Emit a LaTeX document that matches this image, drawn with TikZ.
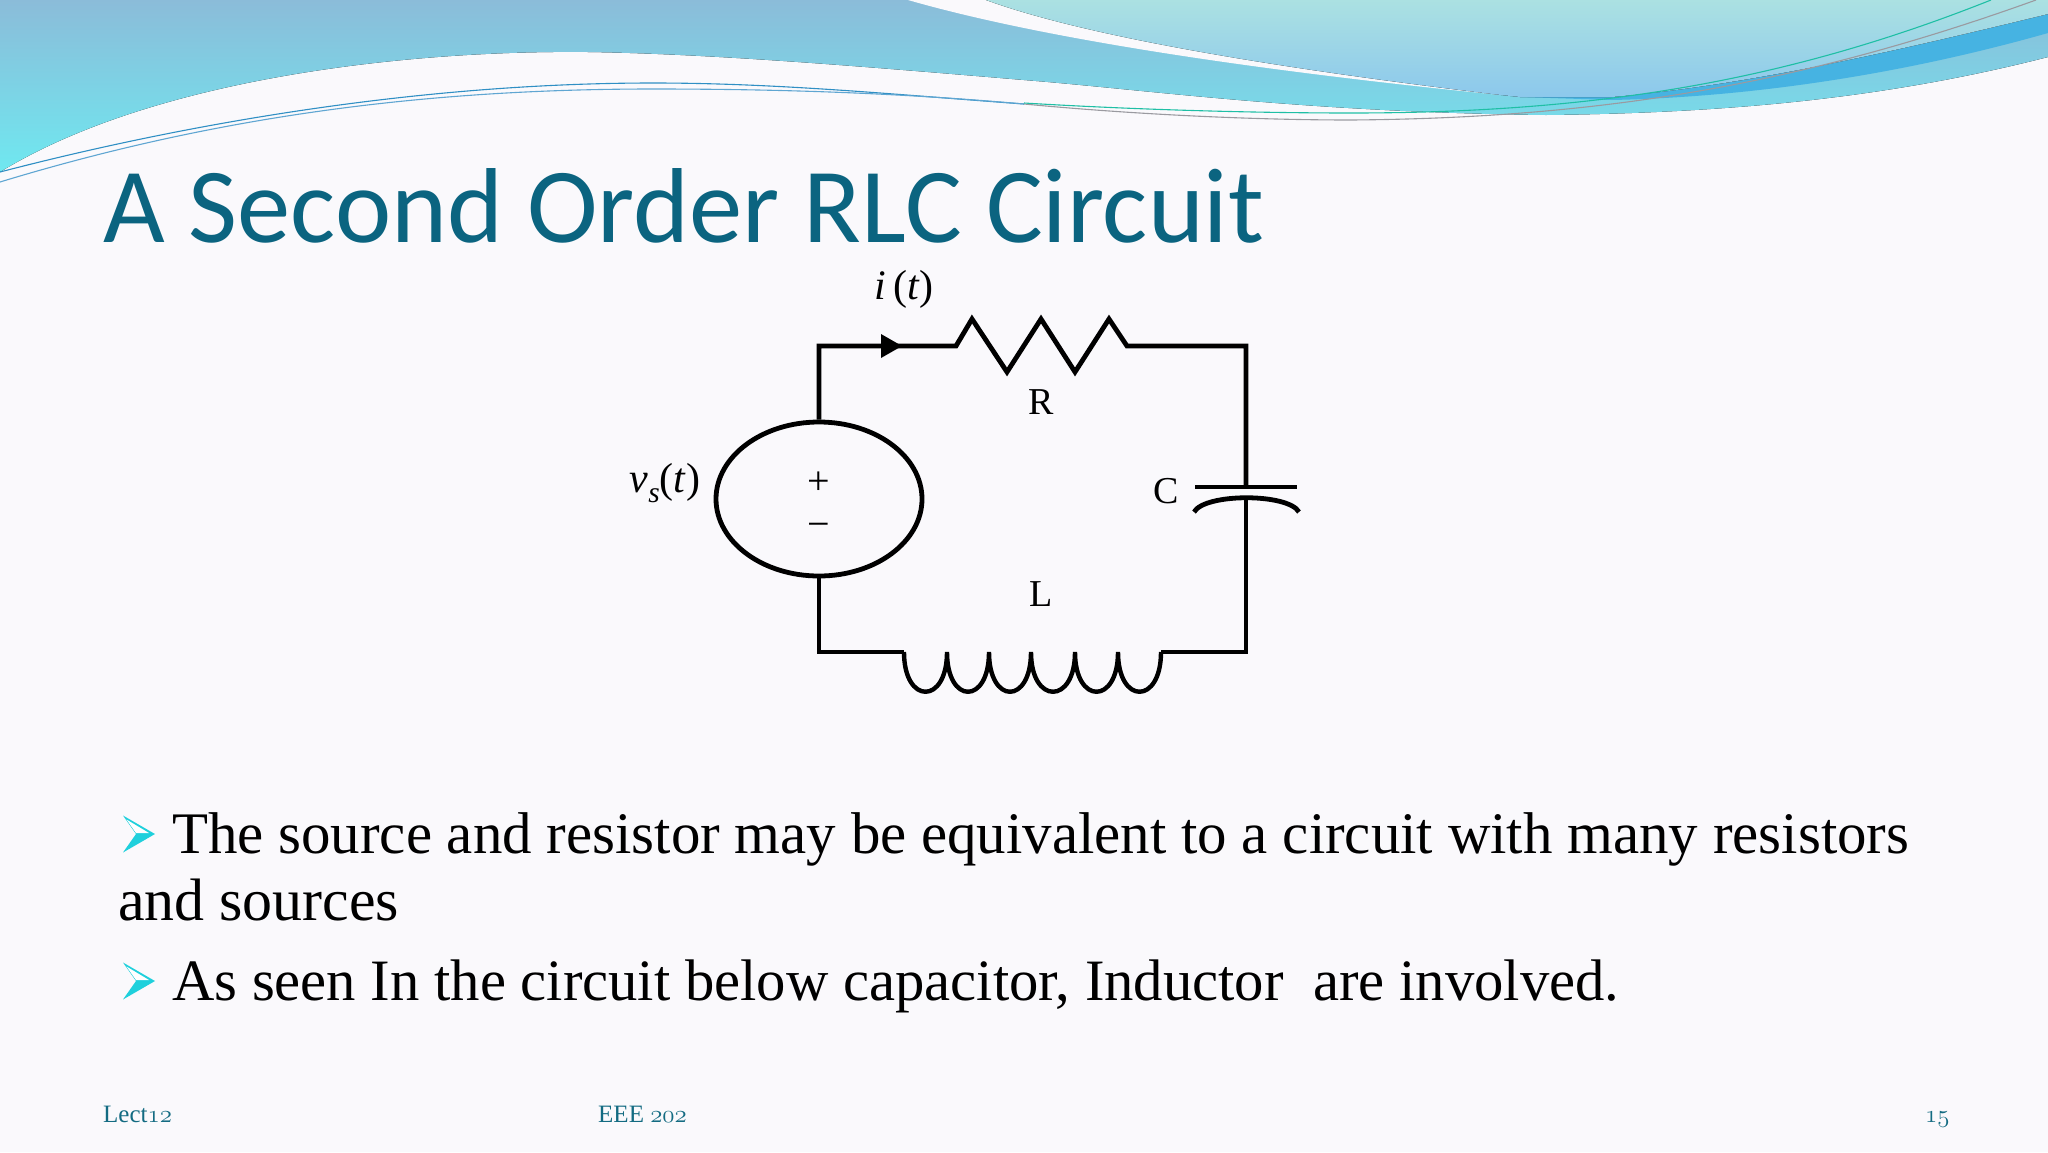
\documentclass[tikz,border=0pt]{standalone}
\usepackage{graphicx}
\usepackage{fontspec}
\usetikzlibrary{shapes.geometric}
\setmainfont{Liberation Serif}
\newfontfamily\titlefont{Carlito}
\newcommand{\osnum}[1]{{\usefont{OML}{cmm}{m}{it}#1}}
\definecolor{pagebg}{HTML}{FAF9FC}
\definecolor{titleteal}{HTML}{0B6480}
\definecolor{footteal}{HTML}{136B82}
\definecolor{bulletcyan}{HTML}{1FD0DC}
\definecolor{bandtop}{HTML}{8BBCD9}
\definecolor{bandbot}{HTML}{6FE8F0}
\definecolor{lighttop}{HTML}{ABE1E2}
\definecolor{lightbot}{HTML}{8CC8EC}
\definecolor{darkband}{HTML}{46B3E2}
\definecolor{lineblue}{HTML}{2F8FC4}
\definecolor{linepale}{HTML}{5FA6D2}
\definecolor{linegray}{HTML}{9A9AA0}
\definecolor{linegreen}{HTML}{1FBFA5}
\tikzset{
  wire/.style={line width=4.8pt,line join=miter,line cap=butt,black},
  swoosh/.style={line width=1.1pt},
  lbl/.style={inner sep=0pt,font=\fontsize{38}{40}\selectfont},
  mathlbl/.style={inner sep=0pt,font=\fontsize{42}{44}\selectfont},
  signlbl/.style={inner sep=0pt,font=\fontsize{40}{42}\selectfont},
  bodytxt/.style={inner sep=0pt,anchor=base west,font=\fontsize{56}{60}\selectfont},
  foot/.style={inner sep=0pt,anchor=base west,text=footteal,font=\fontsize{25}{28}\selectfont},
  bulletmark/.pic={
    \fill[bulletcyan] (-16,-18.5) -- (16,0) -- (-16,18.5) -- (-3,0) -- cycle;
    \fill[white] (-12.5,-14.5) -- (10,-1) -- (-3,-1) -- cycle;
  }
}
\begin{document}
\begin{tikzpicture}[x=1pt,y=-1pt]
\useasboundingbox (0,0) rectangle (2048,1152);
\fill[pagebg] (0,0) rectangle (2048,1152);
% main top band
\fill[top color=bandtop,bottom color=bandbot] (0,0) -- (0,172)
  .. controls (150,80) and (400,50) .. (588,52)
  .. controls (720,54) and (880,68) .. (1024,80)
  .. controls (1150,90) and (1300,112) .. (1546,115)
  .. controls (1720,113) and (1880,100) .. (2048,57) -- (2048,0) -- cycle;
% white strip
\fill[pagebg] (908,0) .. controls (1040,38) and (1250,70) .. (1501,95) -- (1560,90) -- (2048,0) -- cycle;
% dark blue band
\fill[darkband] (1520,97) -- (1612,97) .. controls (1750,85) and (1900,50) .. (2048,14) -- (2048,33)
  .. controls (1900,75) and (1750,97) .. (1612,100) -- cycle;
% light top area
\fill[top color=lighttop,bottom color=lightbot] (986,0) .. controls (1090,38) and (1290,70) .. (1501,95) -- (1520,97) -- (1612,97)
  .. controls (1750,85) and (1900,50) .. (2048,14) -- (2048,0) -- cycle;
% thin lines
\draw[swoosh,color=lineblue] (0,172) .. controls (200,120) and (430,83) .. (653,83) .. controls (780,83) and (900,95) .. (1024,104);
\draw[swoosh,color=linepale] (0,182) .. controls (220,115) and (430,89) .. (653,89) .. controls (780,89) and (900,93) .. (1024,104);
\draw[swoosh,color=linegray] (1024,104) .. controls (1140,115) and (1260,120) .. (1351,120) .. controls (1600,118) and (1800,85) .. (2036,0);
\draw[swoosh,color=linegreen] (1024,103) .. controls (1140,110) and (1260,113) .. (1351,113) .. controls (1600,113) and (1790,80) .. (1991,0);
% title
\node[inner sep=0pt,anchor=base west,text=titleteal] (title) at (103,242)
  {\resizebox{1161pt}{!}{\titlefont\fontsize{105}{110}\selectfont A Second Order RLC Circuit}};
% circuit
\node[draw,line width=4.8pt,ellipse,minimum width=206pt,minimum height=154pt,inner sep=0pt] (src) at (819,499) {};
\coordinate (tl) at (819,346);
\coordinate (tr) at (1246,346);
\coordinate (br) at (1246,652);
\coordinate (bl) at (819,652);
\coordinate (rs) at (956,346);
\coordinate (re) at (1127,346);
\coordinate (ls) at (904,652);
\coordinate (le) at (1161,652);
\coordinate (c1) at (1246,487);
\coordinate (c2) at (1246,498);
\draw[wire] (src.north) -- (tl) -- (rs) -- (972,319) -- (1007,372) -- (1041,319) -- (1075,372) -- (1109,319) -- (re) -- (tr) -- (c1);
\draw[wire] (c2) -- (br) -- (le);
\draw[wire] (src.south) -- (bl) -- (ls);
\draw[wire,line width=4.4pt] (ls) .. controls (904,705) and (947,705) .. (947,652)
  .. controls (947,705) and (989,705) .. (989,652)
  .. controls (989,705) and (1031,705) .. (1031,652)
  .. controls (1031,705) and (1075,705) .. (1075,652)
  .. controls (1075,705) and (1118,705) .. (1118,652)
  .. controls (1118,705) and (1161,705) .. (le);
\coordinate (a1) at (881,334);
\coordinate (a2) at (881,358);
\coordinate (a3) at (902,346);
\fill[black] (a1) -- (a3) -- (a2) -- cycle;
\coordinate (p1) at (1195,487);
\coordinate (p2) at (1297,487);
\draw[wire] (p1) -- (p2);
\coordinate (q1) at (1194,512);
\coordinate (q2) at (1299,512);
\draw[wire] (q1) .. controls (1205,493) and (1288,493) .. (q2);
% labels
\node[mathlbl] (it) at (904,289) {\textit{i}\,(\textit{t})};
\node[lbl] (R) at (1041,402) {R};
\node[lbl] (C) at (1166,491) {C};
\node[lbl] (L) at (1041,594) {L};
\node[mathlbl] (vs) at (665,483) {\textit{v}\raisebox{-.25em}{\scalebox{.7}{\textit{s}}}(\textit{t})};
\node[signlbl] (plus) at (819,483) {+};
\node[signlbl] (minus) at (819,530) {\textminus};
% body
\pic at (139,834) {bulletmark};
\node[bodytxt] (b1) at (172,853) {\resizebox{1737pt}{!}{The source and resistor may be equivalent to a circuit with many resistors}};
\node[bodytxt] (b2) at (118,920) {\resizebox{281pt}{!}{and sources}};
\pic at (139,981) {bulletmark};
\node[bodytxt] (b3) at (172,1000) {\resizebox{1447pt}{!}{As seen In the circuit below capacitor, Inductor\ \ are involved.}};
% footer
\node[foot] (f1) at (103,1122) {Lect\osnum{12}};
\node[foot] (f2) at (598,1122) {EEE \osnum{202}};
\node[foot] (f3) at (1925,1122) {\osnum{15}};
\end{tikzpicture}
\end{document}
